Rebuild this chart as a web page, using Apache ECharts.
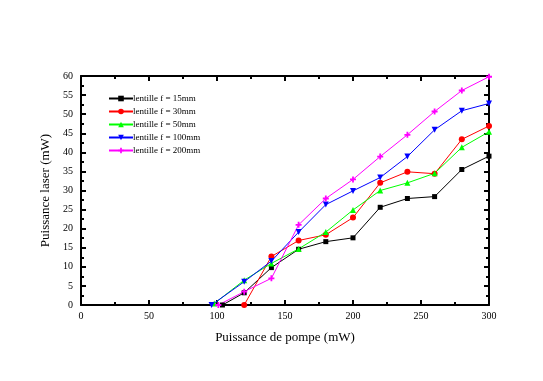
<!DOCTYPE html>
<html>
<head>
<meta charset="utf-8">
<script src="https://cdn.jsdelivr.net/npm/echarts@6/dist/echarts.min.js"></script>
<style>html,body{margin:0;padding:0;background:#fff}#c{width:543px;height:381px}</style>
</head>
<body>
<div id="c"></div>
<script>
var seriesNames = ['lentille f = 15mm', 'lentille f = 30mm', 'lentille f = 50mm', 'lentille f = 100mm', 'lentille f = 200mm'];
var x15 = [104, 120, 140, 160, 180, 200, 220, 240, 260, 280, 300];
var y15 = [0, 3.2, 9.8, 14.6, 16.6, 17.6, 25.6, 27.9, 28.4, 35.5, 39.0];
var x30 = [120, 140, 160, 180, 200, 220, 240, 260, 280, 300];
var y30 = [0, 12.7, 16.9, 18.4, 22.9, 32.0, 34.9, 34.4, 43.4, 46.9];
var x50 = [98, 120, 140, 160, 180, 200, 220, 240, 260, 280, 300];
var y50 = [0.4, 6.5, 10.9, 14.7, 19.1, 24.9, 30.0, 32.0, 34.5, 41.3, 45.4];
var x100 = [96, 120, 140, 160, 180, 200, 220, 240, 260, 280, 300];
var y100 = [0, 6.1, 11.5, 19.1, 26.3, 29.9, 33.4, 38.9, 45.9, 50.9, 52.8];
var x200 = [101, 120, 140, 160, 180, 200, 220, 240, 260, 280, 300];
var y200 = [0, 3.5, 7.0, 21.0, 27.9, 32.9, 38.9, 44.6, 50.7, 56.2, 59.8];
var xTitle = 'Puissance de pompe (mW)';
var yTitle = 'Puissance laser (mW)';

function pairs(xs, ys) { return xs.map(function (x, i) { return [x, ys[i]]; }); }
var colors = ['#000000', '#ff0000', '#00ff00', '#0000ff', '#ff00ff'];
var symbols = ['rect', 'circle', 'triangle', 'triangle',
  'path://M7,0 L13,0 L13,7 L20,7 L20,13 L13,13 L13,20 L7,20 L7,13 L0,13 L0,7 L7,7 Z'];
var sizes = [5, 6, 6, 6, 6];
var datas = [pairs(x15, y15), pairs(x30, y30), pairs(x50, y50), pairs(x100, y100), pairs(x200, y200)];

var font = 'Liberation Serif';
var axisCommon = {
  type: 'value',
  axisLine: { show: true, onZero: false, lineStyle: { color: '#000', width: 2 } },
  axisTick: { show: true, inside: true, length: 5, lineStyle: { color: '#000', width: 2 } },
  minorTick: { show: true, splitNumber: 2, length: 3, lineStyle: { color: '#000', width: 2 } },
  splitLine: { show: false }
};
function ax(extra) { return Object.assign({}, JSON.parse(JSON.stringify(axisCommon)), extra); }

var series = datas.map(function (d, i) {
  var s = {
    name: seriesNames[i], type: 'line', data: d,
    symbol: symbols[i], symbolSize: sizes[i],
    lineStyle: { color: colors[i], width: 1 },
    itemStyle: { color: colors[i] },
    animation: false
  };
  if (i === 3) { s.symbolRotate = 180; }
  return s;
});

var chart = echarts.init(document.getElementById('c'));
chart.setOption({
  backgroundColor: '#fff',
  animation: false,
  grid: { left: 81, right: 54, top: 76, bottom: 76 },
  legend: {
    orient: 'vertical', left: 103, top: 89, itemGap: 4,
    itemWidth: 24, itemHeight: 7,
    textStyle: { fontFamily: font, fontSize: 9, color: '#000', padding: [0, 0, 0, -5] },
    data: seriesNames
  },
  xAxis: [
    ax({ min: 0, max: 300, interval: 50, position: 'bottom',
      axisLabel: { fontFamily: font, fontSize: 10, color: '#000', margin: 6 },
      name: xTitle, nameLocation: 'middle', nameGap: 26,
      nameTextStyle: { fontFamily: font, fontSize: 13, color: '#000' } }),
    ax({ min: 0, max: 300, interval: 50, position: 'top', axisLabel: { show: false } })
  ],
  yAxis: [
    ax({ min: 0, max: 60, interval: 5, position: 'left',
      axisLabel: { fontFamily: font, fontSize: 10, color: '#000', margin: 8 },
      name: yTitle, nameLocation: 'middle', nameGap: 25, nameRotate: 90,
      nameTextStyle: { fontFamily: font, fontSize: 13, color: '#000' } }),
    ax({ min: 0, max: 60, interval: 5, position: 'right', axisLabel: { show: false } })
  ],
  series: series
});
</script>
</body>
</html>
